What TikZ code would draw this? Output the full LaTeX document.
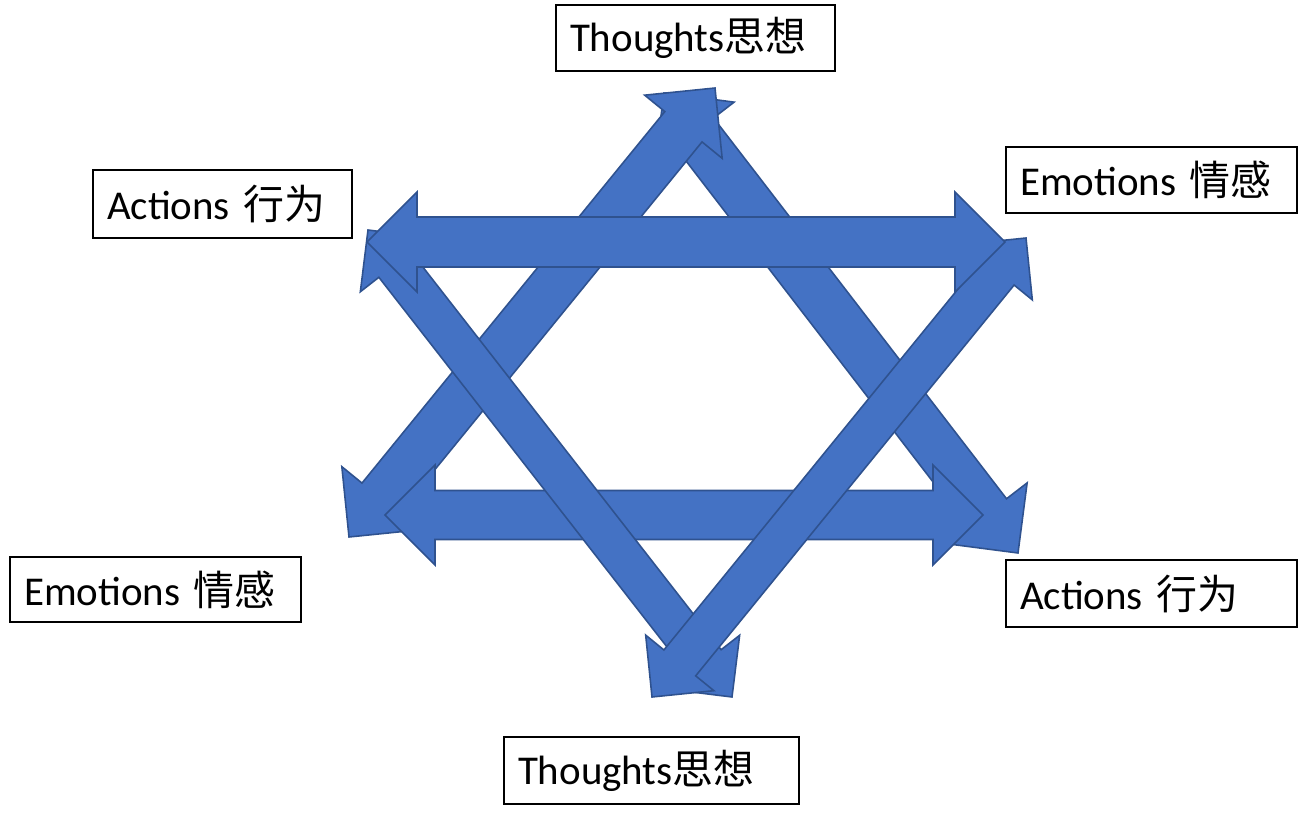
\documentclass[tikz,border=0pt]{standalone}
\usepackage{fontspec}
\setmainfont{Carlito}
\newfontfamily\cjk{Noto Sans CJK SC}
\usetikzlibrary{calc}
\definecolor{arrowblue}{HTML}{4472C4}
\definecolor{arrowedge}{HTML}{2F528F}
% double headed block arrow: style, from, to, head size, half shaft
\newcommand{\blockarrow}[5]{%
\coordinate (ba-a) at ($(#2)!#4!(#3)$);
\coordinate (ba-b) at ($(#3)!#4!(#2)$);
\draw[#1] (#2) -- ($(ba-a)!#4!90:(#3)$) -- ($(ba-a)!#5!90:(#3)$) -- ($(ba-b)!#5!-90:(#2)$) -- ($(ba-b)!#4!-90:(#2)$) -- (#3) -- ($(ba-b)!#4!90:(#2)$) -- ($(ba-b)!#5!90:(#2)$) -- ($(ba-a)!#5!-90:(#3)$) -- ($(ba-a)!#4!-90:(#3)$) -- cycle;}

\begin{document}
\begin{tikzpicture}[x=0.02cm, y=-0.02cm, line join=miter, block arrow/.style={fill=arrowblue, draw=arrowedge, line width=0.9pt}, label box/.style={draw, line width=1.1pt, inner xsep=0.28cm, inner ysep=0pt, align=left, font=\fontsize{23.3}{28}\selectfont}]
\useasboundingbox (0,0) rectangle (1298,821);
\begin{scope}
\coordinate (lr1) at (349,537);
\coordinate (lr2) at (715,88);
\coordinate (rf1) at (664,93);
\coordinate (rf2) at (1018,553);
\coordinate (bh1) at (385,515);
\coordinate (bh2) at (983,515);
\coordinate (lf1) at (368,230);
\coordinate (lf2) at (732,697);
\coordinate (ru1) at (1026,238);
\coordinate (ru2) at (652,697);
\coordinate (th1) at (367,242);
\coordinate (th2) at (1005,242);
\end{scope}
\begin{scope}
\blockarrow{block arrow}{rf1}{rf2}{1cm}{0.48cm}
\blockarrow{block arrow}{lr1}{lr2}{1cm}{0.48cm}
\blockarrow{block arrow}{bh1}{bh2}{1cm}{0.49cm}
\blockarrow{block arrow}{lf1}{lf2}{0.88cm}{0.41cm}
\blockarrow{block arrow}{ru1}{ru2}{0.88cm}{0.41cm}
\blockarrow{block arrow}{th1}{th2}{1cm}{0.5cm}
\end{scope}
\begin{scope}
\node[label box, text width=5.02cm, minimum height=1.32cm] (t1) at (695.5,38) {Thoughts{\cjk 思想}};
\node[label box, text width=4.62cm, minimum height=1.36cm] (a1) at (222.5,204) {Actions {\cjk 行为}};
\node[label box, text width=5.26cm, minimum height=1.32cm] (e1) at (1151.5,180) {Emotions {\cjk 情感}};
\node[label box, text width=5.26cm, minimum height=1.30cm] (e2) at (155.5,589.5) {Emotions {\cjk 情感}};
\node[label box, text width=5.26cm, minimum height=1.34cm] (a2) at (1151.5,593.5) {Actions {\cjk 行为}};
\node[label box, text width=5.34cm, minimum height=1.34cm] (t2) at (651.5,770.5) {Thoughts{\cjk 思想}};
\end{scope}
\end{tikzpicture}
\end{document}
